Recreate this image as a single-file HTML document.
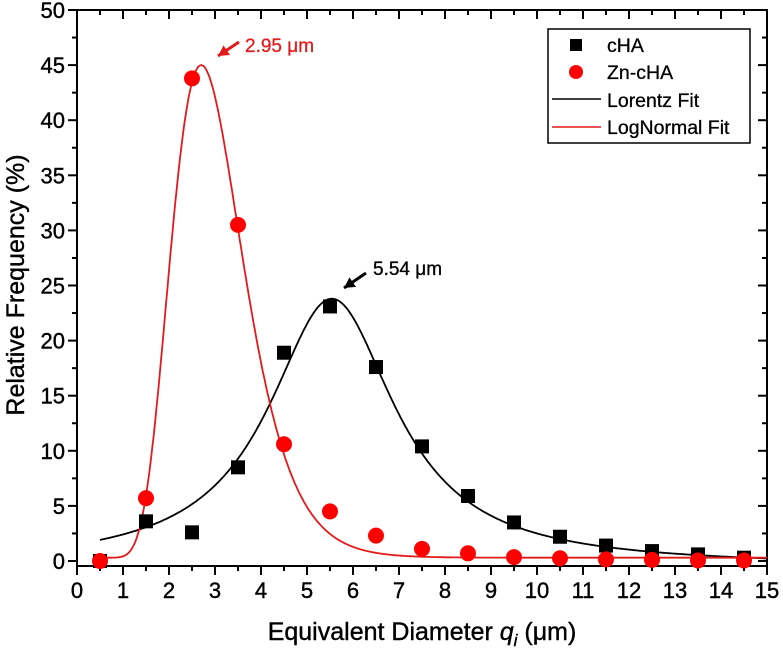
<!DOCTYPE html>
<html><head><meta charset="utf-8"><style>
body{margin:0;background:#fff;}
svg text{font-family:"Liberation Sans",sans-serif;}
</style></head><body>
<svg id="chart" width="783" height="648" xmlns="http://www.w3.org/2000/svg">
</svg>
<script>
const xCats = [0.5,1.5,2.5,3.5,4.5,5.5,6.5,7.5,8.5,9.5,10.5,11.5,12.5,13.5,14.5];
const chaValues = [0,3.6,2.6,8.5,18.9,23.1,17.6,10.4,5.9,3.5,2.2,1.4,0.9,0.6,0.3];
const znValues = [0,5.7,43.8,30.5,10.6,4.5,2.3,1.1,0.7,0.35,0.25,0.15,0.1,0.05,0.05];
const lorentzParams = [5.54, 24.3, 3.35, -0.5]; // xc, H, w, y0
const lognormParams = [2.7, 44.7, 0.289, 0.3]; // xc, A, w, y0
const xTicks = [0,1,2,3,4,5,6,7,8,9,10,11,12,13,14,15];
const yTicks = [0,5,10,15,20,25,30,35,40,45,50];

const NS="http://www.w3.org/2000/svg";
const svg=document.getElementById('chart');
const L=77,R=767,T=10,B=566;
const X=v=>L+(v-0)/15*(R-L);
const Y=v=>561-v*11.02;
function el(tag,attrs,parent){const e=document.createElementNS(NS,tag);for(const k in attrs)e.setAttribute(k,attrs[k]);(parent||svg).appendChild(e);return e;}

const frame=el('rect',{x:L,y:T,width:R-L,height:B-T,fill:'none',stroke:'#000','stroke-width':2});



xTicks.forEach(t=>{
  const x=X(t);
  const tk=el('line',{x1:x,y1:B,x2:x,y2:B+9,stroke:'#000','stroke-width':2});
  
  
  el('line',{x1:x,y1:T,x2:x,y2:T+9,stroke:'#000','stroke-width':2});
  if(t<15){const m=X(t+0.5);el('line',{x1:m,y1:B,x2:m,y2:B+5,stroke:'#000','stroke-width':2});el('line',{x1:m,y1:T,x2:m,y2:T+5,stroke:'#000','stroke-width':2});}
  const lb=el('text',{x:x,y:B+32,'font-size':22,'text-anchor':'middle',stroke:'#000','stroke-width':0.4});
  lb.textContent=t;
  
  
});
yTicks.forEach(t=>{
  const y=Y(t);
  const tk=el('line',{x1:L-9,y1:y,x2:L,y2:y,stroke:'#000','stroke-width':2});
  
  
  el('line',{x1:R-9,y1:y,x2:R,y2:y,stroke:'#000','stroke-width':2});
  if(t<50){const m=Y(t+2.5);el('line',{x1:L-5,y1:m,x2:L,y2:m,stroke:'#000','stroke-width':2});el('line',{x1:R-5,y1:m,x2:R,y2:m,stroke:'#000','stroke-width':2});}
  const lb=el('text',{x:L-12,y:y+8,'font-size':22,'text-anchor':'end',stroke:'#000','stroke-width':0.4});
  lb.textContent=t;
  
  
});
const xt=el('text',{x:422,y:640,'font-size':25,'text-anchor':'middle',stroke:'#000','stroke-width':0.4});
xt.innerHTML='Equivalent Diameter <tspan font-style="italic">q</tspan><tspan font-style="italic" font-size="17" dy="6">i</tspan><tspan dy="-6"> (μm)</tspan>';


const yt=el('text',{x:0,y:0,'font-size':25,'text-anchor':'middle',transform:'translate(24,285) rotate(-90)',stroke:'#000','stroke-width':0.4});
yt.textContent='Relative Frequency (%)';



function lorentz(x){const [xc,H,w,y0]=lorentzParams;return y0+H/(1+4*(x-xc)*(x-xc)/(w*w));}
function lognorm(x){const [xc,A,w,y0]=lognormParams;const l=Math.log(x/xc);return y0+A*Math.exp(-l*l/(2*w*w));}
function path(f){let d='';for(let x=0.5;x<=15.001;x+=0.02){d+=(d?'L':'M')+X(x).toFixed(1)+','+Y(f(x)).toFixed(1);}return d;}
const lp=el('path',{d:path(lorentz),fill:'none',stroke:'#000','stroke-width':1.8});


const gp=el('path',{d:path(lognorm),fill:'none',stroke:'#e31a1c','stroke-width':1.8});



xCats.forEach((c,i)=>{
  const s=el('rect',{x:X(c)-7,y:Y(chaValues[i])-7,width:14,height:14,fill:'#000'});
  
  
});
xCats.forEach((c,i)=>{
  const p=el('circle',{cx:X(c),cy:Y(znValues[i]),r:8,fill:'#f00'});
  
  
});

function arrow(x1,y1,x2,y2,color,name){
  const g=el('g',{});
  
  
  el('line',{x1:x1,y1:y1,x2:x2,y2:y2,stroke:color,'stroke-width':3},g);
  const a=Math.atan2(y2-y1,x2-x1),s=12;
  const p1=[x2-s*Math.cos(a-0.5),y2-s*Math.sin(a-0.5)],p2=[x2-s*Math.cos(a+0.5),y2-s*Math.sin(a+0.5)];
  el('polygon',{points:`${x2},${y2} ${p1} ${p2}`,fill:color},g);
}
arrow(239,42,218,56,'#e31a1c','peak-arrow-zn');
const t1=el('text',{x:245,y:52,'font-size':19,fill:'#e31a1c',stroke:'#e31a1c','stroke-width':0.3});t1.textContent='2.95 μm';


arrow(366,273,344,288,'#000','peak-arrow-cha');
const t2=el('text',{x:373,y:275,'font-size':19,stroke:'#000','stroke-width':0.3});t2.textContent='5.54 μm';



const lg=el('g',{});


el('rect',{x:548,y:29,width:202,height:114,fill:'#fff',stroke:'#000','stroke-width':1.5},lg);
el('rect',{x:570,y:39,width:12,height:12,fill:'#000'},lg);
el('circle',{cx:576,cy:72,r:7,fill:'#f00'},lg);
el('line',{x1:552,y1:99,x2:601,y2:99,stroke:'#000','stroke-width':1.6},lg);
el('line',{x1:552,y1:127,x2:601,y2:127,stroke:'#e31a1c','stroke-width':1.6},lg);
[['cHA',52],['Zn-cHA',79],['Lorentz Fit',107],['LogNormal Fit',134]].forEach(([t,y])=>{
  const tx=el('text',{x:607,y:y,'font-size':19.5,stroke:'#000','stroke-width':0.3},lg);tx.textContent=t;
  
  
});
</script>
</body></html>
